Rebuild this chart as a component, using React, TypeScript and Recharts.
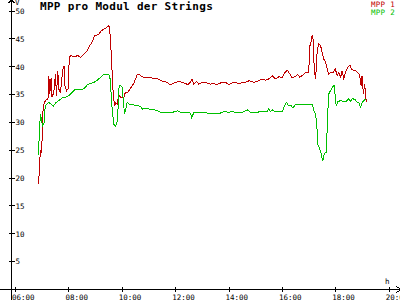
import React from 'react';
import { LineChart, Line, XAxis, YAxis, ReferenceLine, Customized } from 'recharts';

// time in minutes since midnight
const mpp1Times = [412,414,416,418,421,422,425,430,433,435,437,440,442,446,450,452,455,458,461,466,469,471,475,478,481,485,490,495,499,506,514,521,527,532,538,547,553,560,570,572,575,580,583,585,589,592,596,603,607,611,620,625,630,634,639,645,648,656,667,682,686,701,707,712,720,727,735,742,747,753,757,761,767,772,780,787,798,806,813,821,832,840,847,855,862,870,877,885,896,907,915,922,929,937,944,952,960,963,971,977,982,989,995,999,1004,1012,1019,1022,1025,1027,1029,1031,1034,1037,1038,1042,1046,1049,1053,1057,1061,1064,1068,1074,1079,1083,1087,1091,1094,1098,1102,1107,1112,1115,1121,1124,1128,1133,1137,1139,1142,1145,1147,1149];
const mpp1Volts = [19.0,22.3,25.0,24.6,28.5,32.7,33.6,34.2,34.2,38.4,35.1,37.9,34.5,35.4,38.7,34.8,39.3,35.7,35.4,39.3,40.2,36.6,35.7,36.0,41.7,42.1,41.8,41.8,42.1,41.7,42.3,42.9,43.8,44.4,45.6,45.8,46.5,46.8,47.4,46.5,42.6,34.5,33.0,33.6,33.3,35.1,34.5,34.4,35.4,35.3,36.3,36.9,37.8,38.7,38.6,38.2,38.1,38.0,38.0,37.8,37.5,37.2,36.8,36.9,37.2,37.4,37.2,37.0,36.8,37.2,37.8,36.9,37.4,36.9,37.2,37.2,36.9,37.0,36.8,37.1,37.2,36.8,37.1,37.2,36.9,37.2,37.2,37.5,37.2,37.5,37.8,37.6,37.8,38.4,37.8,38.2,38.1,38.7,39.4,38.7,38.0,38.3,38.6,38.1,38.4,39.0,39.0,43.8,44.7,45.7,45.0,40.8,37.8,40.2,42.9,44.1,43.8,42.6,41.4,40.8,39.6,38.7,39.0,38.9,39.6,38.4,39.0,38.1,39.3,37.9,39.0,39.9,40.3,39.6,39.3,39.4,39.0,38.7,36.6,38.4,35.1,36.9,34.8,33.6];

const mpp2Times = [412,413,416,418,421,424,426,427,431,435,440,445,450,457,465,472,480,487,495,502,510,517,522,529,536,544,551,558,566,572,574,577,581,585,589,591,593,596,600,603,605,607,611,615,622,634,641,645,652,660,667,679,686,701,712,724,731,742,753,756,761,772,783,791,798,821,829,840,847,858,870,881,888,903,911,926,929,933,937,944,960,963,969,974,980,984,989,1001,1004,1027,1031,1034,1037,1040,1044,1047,1049,1051,1053,1055,1059,1061,1064,1068,1072,1076,1078,1081,1085,1091,1098,1104,1109,1113,1117,1124,1128,1132,1136,1138,1142,1147];
const mpp2Volts = [24.1,27.1,31.5,30.6,29.4,29.8,32.1,33.0,33.3,33.6,33.3,32.9,33.5,33.9,34.4,34.5,34.8,35.4,36.0,35.9,35.9,36.3,36.8,37.0,37.2,37.6,38.1,38.6,38.7,38.4,36.3,32.7,29.7,29.3,30.3,33.3,36.6,36.6,36.3,33.3,31.6,32.1,33.6,33.3,33.2,33.0,32.9,32.4,32.6,32.4,32.4,32.1,31.8,31.8,31.8,32.1,31.8,31.8,31.7,30.9,31.8,31.8,31.8,31.7,31.7,31.7,32.0,31.8,32.0,31.7,31.8,32.3,31.8,31.8,32.0,32.0,32.4,32.0,32.3,31.9,31.9,32.7,33.6,33.0,33.0,32.6,33.2,33.2,33.3,33.3,32.1,31.5,30.0,25.9,25.3,24.4,23.6,23.2,24.1,24.5,24.6,30.0,35.1,35.7,36.3,36.7,35.4,33.0,33.8,33.9,33.8,33.8,34.3,33.8,34.3,34.1,33.6,33.5,32.7,33.3,33.9,34.2];

const xTicks = [360, 480, 600, 720, 840, 960, 1080, 1200];
const yTicks = [5, 10, 15, 20, 25, 30, 35, 40, 45, 50];
const seriesNames = ['MPP 1', 'MPP 2'];
const title = 'MPP pro Modul der Strings';
const xUnit = 'h';
const yUnit = 'V';

const RED = '#c00000';
const GREEN = '#00c000';
const FONT = '"DejaVu Sans Mono", monospace';

const mpp1Data = mpp1Times.map((t, i) => ({ t, v: mpp1Volts[i] }));
const mpp2Data = mpp2Times.map((t, i) => ({ t, v: mpp2Volts[i] }));

const fmtTime = (m: number) => `${String(Math.floor(m / 60)).padStart(2, '0')}:${String(m % 60).padStart(2, '0')}`;

const XTick = (props: any) => {
  const { x, y, payload } = props;
  return (
    <g>
      <line x1={x} x2={x} y1={y - 2.5} y2={y + 2.5} stroke="#000" />
      <text x={x - 3.5} y={y + 10} fontSize={7.5} fontFamily={FONT} fill="#000">
        {fmtTime(payload.value)}
      </text>
    </g>
  );
};

const YTick = (props: any) => {
  const { x, y, payload } = props;
  return (
    <g>
      <line x1={x - 3} x2={x + 3} y1={y} y2={y} stroke="#000" />
      <text x={x + 4} y={y + 2.7} fontSize={7.5} fontFamily={FONT} fill="#000">
        {payload.value}
      </text>
    </g>
  );
};

const Overlay = () => (
  <g>
    <text x={40} y={10} fontSize={11} fontWeight="bold" letterSpacing={0.3} fontFamily={FONT} fill="#000">
      {title}
    </text>
    <text x={395} y={7} textAnchor="end" fontSize={7.5} letterSpacing={0.3} fontFamily={FONT} fill={RED}>
      {seriesNames[0]}
    </text>
    <text x={395} y={14.5} textAnchor="end" fontSize={7.5} letterSpacing={0.3} fontFamily={FONT} fill={GREEN}>
      {seriesNames[1]}
    </text>
    <text x={385} y={283.5} fontSize={7.5} fontFamily={FONT} fill="#000">
      {xUnit}
    </text>
    <text x={15} y={5} fontSize={7.5} fontFamily={FONT} fill="#000">
      {yUnit}
    </text>
  </g>
);

export default function App() {
  return (
    <div style={{ position: 'absolute', left: 0, top: 0, width: 400, height: 300, background: '#fff' }}>
      <LineChart width={400} height={300} margin={{ top: 0, right: 1.5, bottom: 0, left: 0 }} style={{ shapeRendering: 'crispEdges' }}>
        <XAxis
          type="number"
          dataKey="t"
          domain={[351, 1221]}
          ticks={xTicks}
          allowDataOverflow
          height={10.5}
          axisLine={false}
          tickLine={false}
          tickSize={0}
          tickMargin={0}
          tick={<XTick />}
          interval={0}
        />
        <YAxis
          type="number"
          dataKey="v"
          domain={[0, 52]}
          ticks={yTicks}
          allowDataOverflow
          width={11.5}
          axisLine={false}
          tickLine={false}
          tickSize={0}
          tickMargin={0}
          tick={<YTick />}
          interval={0}
        />
        <ReferenceLine segment={[{ x: 326, y: 0 }, { x: 1228, y: 0 }]} stroke="#000" ifOverflow="visible" />
        <ReferenceLine segment={[{ x: 351, y: -2 }, { x: 351, y: 52 }]} stroke="#000" ifOverflow="visible" />
        <ReferenceLine segment={[{ x: 1215.5, y: 0.55 }, { x: 1228, y: 0 }]} stroke="#000" ifOverflow="visible" />
        <ReferenceLine segment={[{ x: 1215.5, y: -0.55 }, { x: 1228, y: 0 }]} stroke="#000" ifOverflow="visible" />
        <ReferenceLine segment={[{ x: 344.3, y: 51.45 }, { x: 351, y: 52 }]} stroke="#000" ifOverflow="visible" />
        <ReferenceLine segment={[{ x: 357.7, y: 51.45 }, { x: 351, y: 52 }]} stroke="#000" ifOverflow="visible" />
        <Line data={mpp1Data} dataKey="v" type="linear" stroke={RED} strokeWidth={1} dot={false} isAnimationActive={false} name={seriesNames[0]} />
        <Line data={mpp2Data} dataKey="v" type="linear" stroke={GREEN} strokeWidth={1} dot={false} isAnimationActive={false} name={seriesNames[1]} />
        <Customized component={<Overlay />} />
      </LineChart>
    </div>
  );
}
